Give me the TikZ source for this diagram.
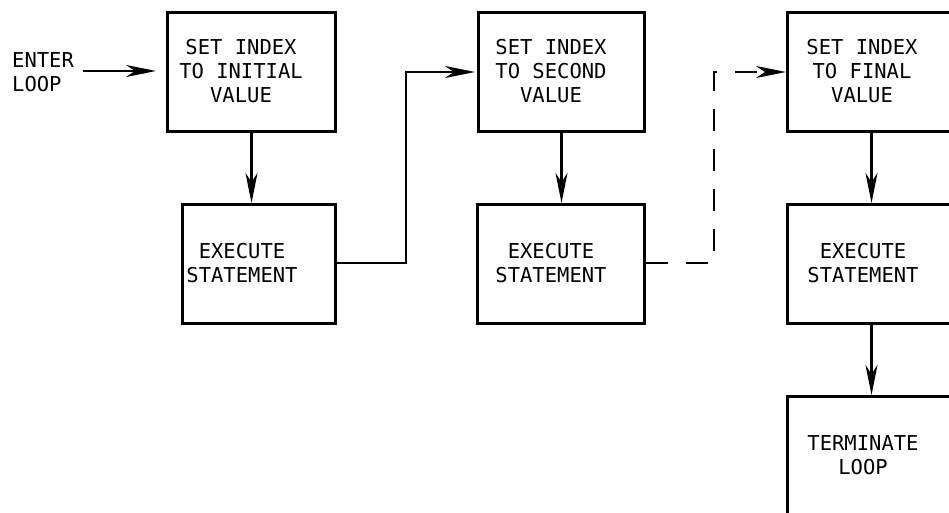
\documentclass[tikz,border=0pt]{standalone}
\usepackage{fontspec}
\newfontfamily\lgfont{DejaVu Sans Mono}
\usetikzlibrary{arrows.meta}
\begin{document}
\begin{tikzpicture}[x=1pt,y=-1pt,
  box/.style={draw,line width=3pt,anchor=north west,inner sep=0pt,minimum width=168pt,minimum height=119pt},
  lbl/.style={align=center,inner sep=0pt,font=\lgfont\fontsize{20.5}{24}\selectfont},
  arr/.style={line width=2.8pt,-{Stealth[length=30pt,width=12pt,inset=9pt]}}]
\useasboundingbox (0,0) rectangle (949,513);
\clip (0,0) rectangle (949,513);
% boxes
\node[box] (b1) at (166,11) {};
\node[box,minimum width=153pt] (e1) at (181,203) {};
\node[box,minimum width=166pt] (b2) at (477,11) {};
\node[box,minimum width=167pt] (e2) at (476,203) {};
\node[box] (b3) at (786,11) {};
\node[box] (e3) at (786,203) {};
\node[box,minimum height=120pt] (t) at (786,395) {};
% labels
\node[lbl,anchor=west,align=left] (enter) at (12,72) {ENTER\\LOOP};
\node[lbl] (l1) at (241,71.5) {SET INDEX\\TO INITIAL\\VALUE};
\node[lbl] (l2) at (551,71.5) {SET INDEX\\TO SECOND\\VALUE};
\node[lbl] (l3) at (862,71.5) {SET INDEX\\TO FINAL\\VALUE};
\node[lbl] (le1) at (242,263) {EXECUTE\\STATEMENT};
\node[lbl] (le2) at (551,263) {EXECUTE\\STATEMENT};
\node[lbl] (le3) at (863,263) {EXECUTE\\STATEMENT};
\node[lbl] (lt) at (863,455) {TERMINATE\\LOOP};
% connectors
\coordinate (s0) at (83,71);
\draw[arr,shorten >=10pt] (s0) -- (s0 -| b1.west);
\draw[arr] (b1.south) -- (b1.south |- e1.north);
\draw[arr] (b2.south) -- (b2.south |- e2.north);
\draw[arr] (b3.south) -- (b3.south |- e3.north);
\draw[arr] (e3.south) -- (t.north);
\coordinate (k1) at (406,263);
\draw[arr,shorten >=2pt] (e1.east |- k1) -- (k1) |- (b2.west);
\coordinate (k2) at (714,263);
\draw[arr,dash pattern=on 22pt off 18pt] (e2.east |- k2) -- (k2) |- (b3.west);
\end{tikzpicture}
\end{document}
